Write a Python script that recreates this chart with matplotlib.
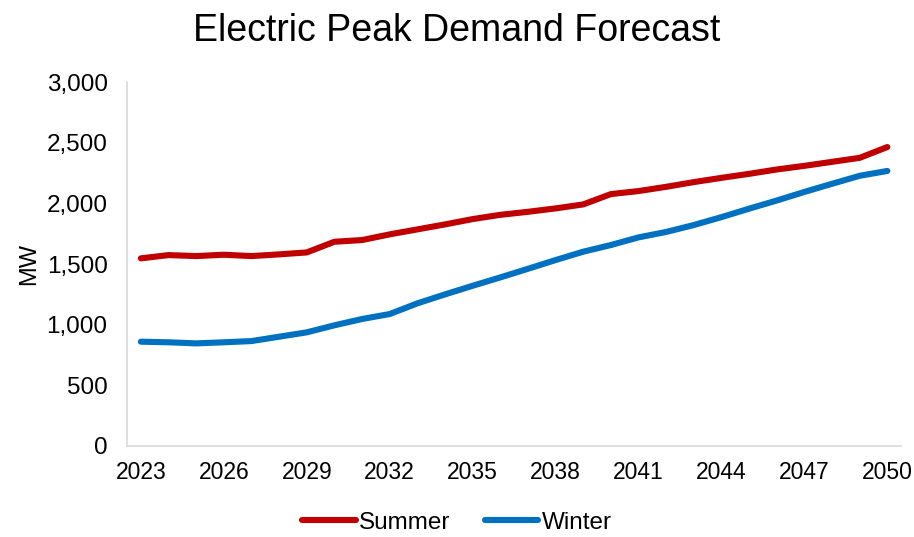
import numpy as np
import matplotlib.pyplot as plt
from matplotlib.ticker import FuncFormatter

# Peak demand forecast, MW
years = list(range(2023, 2051))
summer = [1547, 1574, 1566, 1577, 1566, 1580, 1596, 1684, 1698, 1745,
          1786, 1827, 1871, 1906, 1931, 1959, 1992, 2077, 2102, 2137,
          2176, 2211, 2244, 2280, 2310, 2343, 2376, 2465]
winter = [860, 855, 846, 855, 865, 901, 937, 995, 1047, 1088,
          1176, 1250, 1321, 1390, 1461, 1533, 1602, 1657, 1720, 1765,
          1822, 1887, 1957, 2024, 2095, 2162, 2228, 2268]
tick_years = years[::3]

RED = '#C00000'
BLUE = '#0070C0'
AXIS = '#D9D9D9'

plt.rcParams['font.family'] = ['Liberation Sans', 'DejaVu Sans']

fig = plt.figure(figsize=(9.14, 5.37), dpi=100)
ax = fig.add_axes([0.139, 0.1695, 0.847, 0.6775])

x = np.arange(len(years))
ax.plot(x, summer, color=RED, lw=4.4, solid_capstyle='round', label='Summer')
ax.plot(x, winter, color=BLUE, lw=4.4, solid_capstyle='round', label='Winter')

ax.set_xlim(-0.5, len(years) - 0.5)
ax.set_ylim(0, 3000)
ax.set_yticks(np.arange(0, 3001, 500))
ax.yaxis.set_major_formatter(FuncFormatter(lambda v, p: f'{int(v):,}'))
ax.set_xticks([years.index(y) for y in tick_years])
ax.set_xticklabels([str(y) for y in tick_years])

ax.tick_params(axis='both', length=0, colors='black')
ax.tick_params(axis='y', pad=14, labelsize=17.5)
ax.tick_params(axis='x', pad=11, labelsize=16.5)

for s in ['top', 'right']:
    ax.spines[s].set_visible(False)
for s in ['left', 'bottom']:
    ax.spines[s].set_color(AXIS)
    ax.spines[s].set_linewidth(1.2)

ax.set_ylabel('MW', fontsize=17)
ax.yaxis.set_label_coords(-0.112, 0.5)

fig.suptitle('Electric Peak Demand Forecast', fontsize=27, y=0.975)

fig.legend(loc='center', bbox_to_anchor=(0.5, 0.027), ncol=2,
           frameon=False, fontsize=17.5, handlelength=2.2,
           handletextpad=0.15, columnspacing=1.4)

fig.savefig('out.png', dpi=100)
